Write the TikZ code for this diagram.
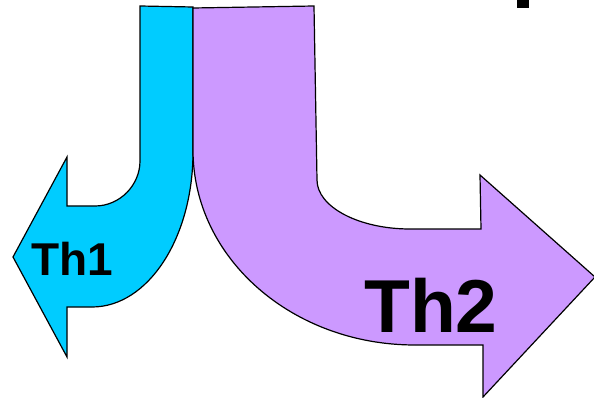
\documentclass[tikz,border=0pt]{standalone}
\usepackage{fontspec}
\setmainfont{Liberation Sans}
\definecolor{thcyan}{HTML}{00CCFF}
\definecolor{thpurple}{HTML}{CC99FF}
\tikzset{
  arrowshape/.style={draw=black, line width=1.2pt, line join=miter},
  thlabel/.style={anchor=base, inner sep=0pt, font=\bfseries}
}
\begin{document}
\begin{tikzpicture}[x=1pt, y=-1pt]
\useasboundingbox (0,0) rectangle (594,398);
% cyan arrow (Th1)
\path[arrowshape, fill=thcyan]
  (140,6) -- (193,7) -- (193,152)
  .. controls (193,238) and (148,307) .. (92,307)
  -- (67,307) -- (67,357) -- (13,257) -- (67,157) -- (67,206) -- (95,206)
  .. controls (120,206) and (140,185) .. (140,161) -- cycle;
% purple arrow (Th2)
\path[arrowshape, fill=thpurple]
  (193,8) -- (314,6) -- (317,180)
  .. controls (317,207) and (359,229) .. (410,229)
  -- (481,229) -- (480,175) -- (595,277) -- (483,397) -- (483,345) -- (415,345)
  .. controls (292,345) and (193,258) .. (193,150) -- cycle;
% fragment at the top right
\fill[black] (517,0) rectangle (529,8);
% labels
\node[thlabel, font=\fontsize{46}{50}\selectfont\bfseries] (th1) at (72.5,275) {Th1};
\node[thlabel, font=\fontsize{75}{80}\selectfont\bfseries] (th2) at (431,332) {Th2};
\end{tikzpicture}
\end{document}
